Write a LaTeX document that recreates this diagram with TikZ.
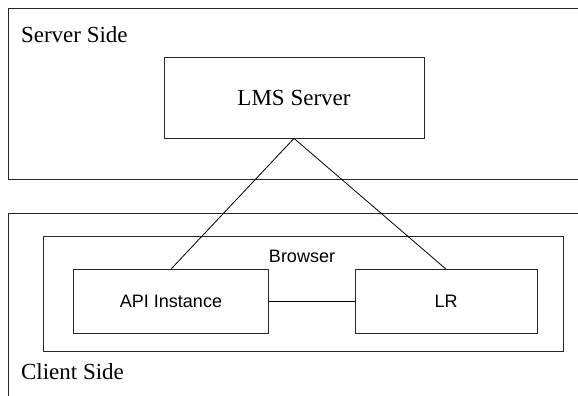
\documentclass[tikz,border=0pt]{standalone}
\usepackage{fontspec}
\setmainfont{Liberation Serif}
\setsansfont{Liberation Sans}

\begin{document}
\begin{tikzpicture}[x=1pt,y=-1pt,
    box/.style={draw=black!85, line width=0.8pt, inner sep=0pt},
    big/.style={font=\fontsize{23}{27}\selectfont},
    small/.style={font=\sffamily\fontsize{18}{22}\selectfont}]
    \useasboundingbox (0,0) rectangle (578,396);
    \clip (0,0) rectangle (578,396);
    % the two sides, both running off the right edge
    \node[box, anchor=north west, minimum width=600, minimum height=171] (serverside) at (8,8) {};
    \node[box, anchor=north west, minimum width=600, minimum height=200] (clientside) at (8,212.5) {};
    \node[big, anchor=base west] (serverlbl) at (17.5,43) {Server Side};
    \node[big, anchor=base west] (clientlbl) at (17.5,379) {Client Side};
    % server
    \node[box, big, minimum width=260, minimum height=81] (lms) at (294,97.5) {LMS Server};
    % browser with its two parts
    \node[box, minimum width=519.5, minimum height=114.5] (browser) at (303.25,293.75) {};
    \node[small, anchor=base] (browserlbl) at (302,262.5) {Browser};
    \node[box, small, minimum width=195, minimum height=64] (api) at (171,301.5) {API Instance};
    \node[box, small, minimum width=182, minimum height=64] (lr) at (446,301.5) {LR};
    \draw[line width=0.8pt] (lms.south) -- (api.north);
    \draw[line width=0.8pt] (lms.south) -- (lr.north);
    \draw[line width=0.8pt] (api.east) -- (lr.west);
\end{tikzpicture}
\end{document}
